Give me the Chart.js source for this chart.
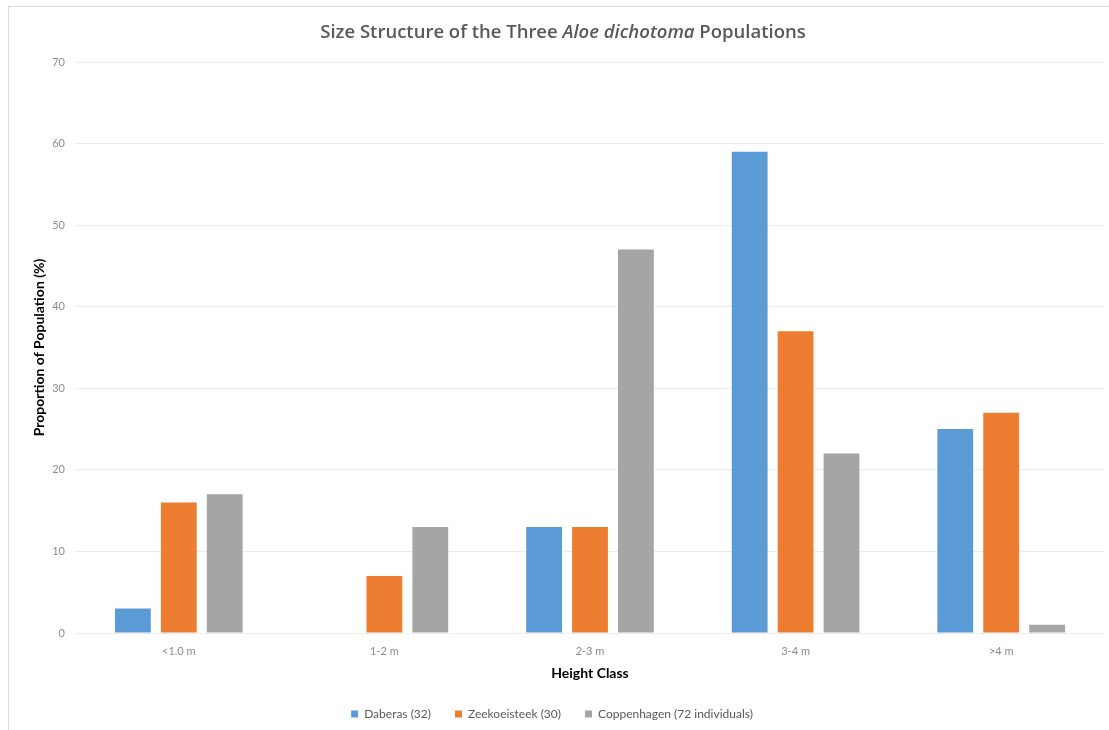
<!DOCTYPE html>
<html>
<head>
<meta charset="utf-8">
<script src="https://cdn.jsdelivr.net/npm/chart.js@4/dist/chart.umd.min.js"></script>
<style>
  html, body { margin: 0; padding: 0; background: #fff; }
  #wrap { position: relative; width: 1109px; height: 730px; overflow: hidden; }
  #c { position: absolute; left: 0; top: 0; }
  #frame { position: absolute; left: 8px; top: 6px; width: 1120px; height: 740px; border: 1px solid #d9d9d9; box-sizing: border-box; pointer-events: none; }
  #title { position: absolute; left: 0; width: 1126px; top: 18px; text-align: center; font-family: "Open Sans", Lato, sans-serif; font-weight: 600; font-size: 18.5px; color: #595959; }
</style>
</head>
<body>
<div id="wrap">
  <canvas id="c" width="1109" height="730"></canvas>
  <div id="frame"></div>
  <div id="title">Size Structure of the Three <i>Aloe dichotoma</i> Populations</div>
</div>
<script>
const categories = ["<1.0 m", "1-2 m", "2-3 m", "3-4 m", ">4 m"];
const daberas = [3, 0, 13, 59, 25];
const zeekoeisteek = [16, 7, 13, 37, 27];
const coppenhagen = [17, 13, 47, 22, 1];
const seriesLabels = ["Daberas (32)", "Zeekoeisteek (30)", "Coppenhagen (72 individuals)"];
const seriesColors = ["#5B9BD5", "#ED7D31", "#A5A5A5"];
const yTitle = "Proportion of Population (%)";
const xTitle = "Height Class";

const FONT = 'Lato, "Open Sans", sans-serif';

new Chart(document.getElementById('c'), {
  type: 'bar',
  data: {
    labels: categories,
    datasets: [daberas, zeekoeisteek, coppenhagen].map((d, i) => ({
      label: seriesLabels[i],
      data: d,
      backgroundColor: seriesColors[i],
      borderWidth: 0,
      categoryPercentage: 0.67,
      barPercentage: 0.78
    }))
  },
  options: {
    responsive: false,
    animation: false,
    devicePixelRatio: 1,
    layout: { padding: { left: 0, right: 5, top: 62, bottom: 0 } },
    plugins: {
      title: { display: false },
      tooltip: { enabled: false },
      legend: {
        position: 'bottom',
        labels: {
          boxWidth: 7, boxHeight: 7, padding: 24,
          color: '#595959',
          font: { family: FONT, size: 12 }
        }
      }
    },
    scales: {
      x: {
        grid: { display: false, drawTicks: false },
        border: { display: false },
        ticks: { color: '#8c8c8c', padding: 12, font: { family: FONT, size: 11 } },
        title: { display: true, text: xTitle, color: '#000', font: { family: FONT, size: 14, weight: 'bold' }, padding: { top: 0, bottom: 2 } },
        afterFit: (s) => { s.height = 51; }
      },
      y: {
        min: 0, max: 70,
        ticks: { stepSize: 10, color: '#8c8c8c', padding: 11, font: { family: FONT, size: 11 } },
        grid: { color: '#ececec', drawTicks: false, lineWidth: 1 },
        border: { display: false },
        title: { display: true, text: yTitle, color: '#000', font: { family: FONT, size: 14, weight: 'bold' }, padding: { top: 31, bottom: 0 } },
        afterFit: (s) => { s.width = 76; }
      }
    }
  }
});
</script>
</body>
</html>
